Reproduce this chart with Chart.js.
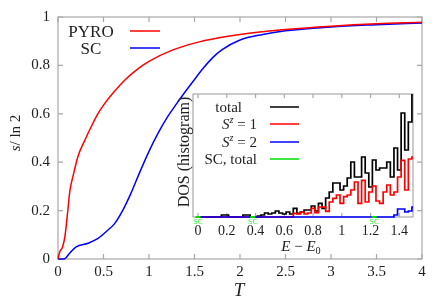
<!DOCTYPE html>
<html>
<head>
<meta charset="utf-8">
<script src="https://cdn.jsdelivr.net/npm/chart.js@4.4.0/dist/chart.umd.min.js"></script>
<style>
  html, body { margin: 0; padding: 0; background: #fff; }
  #wrap { position: relative; width: 436px; height: 306px; }
  #wrap canvas { position: absolute; left: 0; top: 0; }
</style>
</head>
<body>
<div id="wrap">
  <canvas id="mainChart" width="436" height="306"></canvas>
  <canvas id="insetChart" width="436" height="306"></canvas>
</div>
<script>
// main panel: entropy per site vs temperature
const pyroT = [0, 0.02, 0.05, 0.075, 0.105, 0.13, 0.17, 0.22, 0.3, 0.35, 0.43, 0.5, 0.6, 0.75, 0.93, 1.0, 1.25, 1.5, 1.77, 2.0, 2.5, 3.0, 3.5, 4.0];
const pyroS = [0, 0.03, 0.05, 0.09, 0.19, 0.28, 0.35, 0.425, 0.495, 0.535, 0.595, 0.636, 0.684, 0.745, 0.8, 0.817, 0.862, 0.892, 0.914, 0.928, 0.948, 0.962, 0.972, 0.978];
const scT = [0, 0.065, 0.13, 0.2, 0.33, 0.44, 0.55, 0.62, 0.71, 0.8, 0.9, 1.0, 1.1, 1.2, 1.3, 1.4, 1.5, 1.6, 1.7, 1.8, 2.0, 2.25, 2.5, 3.0, 3.5, 4.0];
const scS = [0, 0, 0.025, 0.05, 0.065, 0.085, 0.12, 0.145, 0.2, 0.27, 0.36, 0.445, 0.52, 0.585, 0.64, 0.692, 0.742, 0.79, 0.832, 0.864, 0.905, 0.928, 0.943, 0.959, 0.968, 0.975];
const tTicks = [0, 0.5, 1, 1.5, 2, 2.5, 3, 3.5, 4];
const sTicks = [0, 0.2, 0.4, 0.6, 0.8, 1];

// inset: DOS histogram (bin centres in E - E0)
const binE = [0, 0.025, 0.05, 0.075, 0.1, 0.125, 0.15, 0.175, 0.2, 0.225, 0.25, 0.275, 0.3, 0.325, 0.35, 0.375, 0.4, 0.425, 0.45, 0.475,
  0.5, 0.525, 0.55, 0.575, 0.6, 0.625, 0.65, 0.675, 0.7, 0.725, 0.75, 0.775, 0.8, 0.825, 0.85, 0.875, 0.9, 0.925, 0.95, 0.975,
  1.0, 1.025, 1.05, 1.075, 1.1, 1.125, 1.15, 1.175, 1.2, 1.225, 1.25, 1.275, 1.3, 1.325, 1.35, 1.375, 1.4, 1.425, 1.45, 1.475, 1.5];
const dosTotal = [0, 0, 0, 0, 0, 0, 0, 0.2, 0.2, 0, 0, 0, 0, 0.2, 0.2, 0, 0, 0.1, 0.2, 0.4,
  0.3, 0.4, 0.6, 0.4, 0.3, 0.5, 0.3, 0.87, 0.37, 0.5, 0.7, 0.7, 1.1, 0.6, 1.37, 0.87, 1.9, 2.5, 3.4, 3.4,
  2.7, 3.1, 3.9, 5.5, 4.0, 4.0, 6.0, 4.4, 3.0, 5.7, 4.7, 4.9, 4.9, 5.5, 4.0, 6.9, 4.7, 10.4, 6.7, 9.5, 12.6];
const dosSz1 = [0, 0, 0, 0, 0, 0, 0, 0, 0, 0, 0, 0, 0, 0, 0, 0, 0, 0, 0, 0,
  0, 0, 0, 0, 0, 0, 0, 0.37, 0.3, 0.5, 0.3, 0.4, 0.87, 0.43, 1.0, 1.0, 0.57, 1.5, 1.87, 2.2,
  1.37, 2.03, 2.2, 2.7, 3.5, 1.37, 3.67, 1.5, 2.5, 3.1, 1.6, 1.37, 2.5, 3.2, 2.2, 2.5, 4.0, 5.67, 2.7, 5.8, 6.0];
const dosSz2 = [0, 0, 0, 0, 0, 0, 0, 0, 0, 0, 0, 0, 0, 0, 0, 0, 0, 0, 0, 0,
  0, 0, 0, 0, 0, 0, 0, 0, 0, 0, 0, 0, 0, 0, 0, 0, 0, 0, 0, 0,
  0, 0, 0, 0, 0, 0, 0, 0, 0, 0, 0, 0, 0, 0, 0, 0.2, 0.8, 0.8, 0.5, 0.6, 1.0];
const scE = [0, 0.38, 1.225];
const scLabels = ["SC", "SC", "SC"];
const eTicks = [0, 0.2, 0.4, 0.6, 0.8, 1, 1.2, 1.4];

const FONT = '"Liberation Serif", "DejaVu Serif", serif';
const AXIS_GRAY = "#a8a8a8";
const TEXT = "#222";

const pts = (xs, ys) => xs.map((v, i) => ({ x: v, y: ys[i] }));

// draws text made of pieces (italic, superscript, subscript)
function drawRich(ctx, parts, x, y, size, align) {
  let w = 0;
  const m = parts.map(p => {
    const s = p.sup || p.sub ? size * 0.68 : size;
    const f = (p.it ? "italic " : "") + s + "px " + FONT;
    ctx.font = f;
    const pw = ctx.measureText(p.t).width;
    w += pw;
    return { p, f, pw };
  });
  let cx = align === "right" ? x - w : align === "center" ? x - w / 2 : x;
  ctx.textAlign = "left";
  ctx.textBaseline = "alphabetic";
  m.forEach(({ p, f, pw }) => {
    ctx.font = f;
    const dy = p.sup ? -size * 0.4 : p.sub ? size * 0.22 : 0;
    ctx.fillText(p.t, cx, y + dy);
    cx += pw;
  });
}

// --- Main chart ---
const mainDecor = {
  id: "mainDecor",
  beforeDatasetsDraw(chart) {
    const { ctx, chartArea: a, scales: { x, y } } = chart;
    ctx.save();
    ctx.strokeStyle = AXIS_GRAY;
    ctx.lineWidth = 1.2;
    ctx.strokeRect(a.left, a.top, a.right - a.left, a.bottom - a.top);
    ctx.beginPath();
    tTicks.forEach(v => {
      const px = x.getPixelForValue(v);
      ctx.moveTo(px, a.bottom); ctx.lineTo(px, a.bottom - 5);
      ctx.moveTo(px, a.top); ctx.lineTo(px, a.top + 5);
    });
    sTicks.forEach(v => {
      const py = y.getPixelForValue(v);
      ctx.moveTo(a.left, py); ctx.lineTo(a.left + 5, py);
      ctx.moveTo(a.right, py); ctx.lineTo(a.right - 5, py);
    });
    ctx.stroke();
    ctx.restore();
  },
  afterDraw(chart) {
    const { ctx } = chart;
    ctx.save();
    ctx.fillStyle = TEXT;
    // legend
    const items = [
      { ds: chart.data.datasets[0], y: 31 },
      { ds: chart.data.datasets[1], y: 48 }
    ];
    items.forEach(it => {
      drawRich(ctx, [{ t: it.ds.label }], 91, it.y + 6, 17, "center");
      ctx.strokeStyle = it.ds.borderColor;
      ctx.lineWidth = 1.5;
      ctx.beginPath();
      ctx.moveTo(130, it.y); ctx.lineTo(160, it.y);
      ctx.stroke();
    });
    // axis titles
    drawRich(ctx, [{ t: "T", it: true }], 239, 296, 19, "center");
    ctx.translate(15, 133);
    ctx.rotate(-Math.PI / 2);
    drawRich(ctx, [{ t: "s", it: true }, { t: "/ ln 2" }], 0, 5, 15, "center");
    ctx.restore();
  }
};

new Chart(document.getElementById("mainChart"), {
  type: "line",
  data: {
    datasets: [
      { label: "PYRO", data: pts(pyroT, pyroS), borderColor: "#ff0000", borderWidth: 1.5,
        pointRadius: 0, cubicInterpolationMode: "monotone", fill: false, clip: 2 },
      { label: "SC", data: pts(scT, scS), borderColor: "#0000ff", borderWidth: 1.5,
        pointRadius: 0, cubicInterpolationMode: "monotone", fill: false, clip: 2 }
    ]
  },
  options: {
    responsive: false,
    animation: false,
    events: [],
    layout: { padding: { top: 14, right: 14, left: 0, bottom: 0 } },
    plugins: { legend: { display: false }, tooltip: { enabled: false } },
    scales: {
      x: {
        type: "linear", min: 0, max: 4,
        afterFit: s => { s.height = 47; },
        afterBuildTicks: s => { s.ticks = tTicks.map(v => ({ value: v })); },
        ticks: { font: { family: FONT, size: 15 }, color: TEXT, padding: 4, maxRotation: 0,
                 callback: v => String(+v.toFixed(1)) },
        grid: { display: false, drawTicks: false },
        border: { display: false }
      },
      y: {
        type: "linear", min: 0, max: 1,
        afterFit: s => { s.width = 58; },
        afterBuildTicks: s => { s.ticks = sTicks.map(v => ({ value: v })); },
        ticks: { font: { family: FONT, size: 15 }, color: TEXT, padding: 8,
                 callback: v => String(+v.toFixed(1)) },
        grid: { display: false, drawTicks: false },
        border: { display: false }
      }
    }
  },
  plugins: [mainDecor]
});

// --- Inset chart ---
const insetDecor = {
  id: "insetDecor",
  beforeDatasetsDraw(chart) {
    const { ctx, chartArea: a, scales: { x } } = chart;
    ctx.save();
    ctx.strokeStyle = AXIS_GRAY;
    ctx.lineWidth = 1.2;
    ctx.strokeRect(a.left, a.top, a.right - a.left, a.bottom - a.top);
    ctx.beginPath();
    eTicks.forEach(v => {
      const px = x.getPixelForValue(v);
      ctx.moveTo(px, a.bottom); ctx.lineTo(px, a.bottom - 4);
      ctx.moveTo(px, a.top); ctx.lineTo(px, a.top + 4);
    });
    ctx.stroke();
    ctx.restore();
  },
  afterDatasetsDraw(chart) {
    const { ctx, chartArea: a } = chart;
    ctx.save();
    // SC level labels under the green marks
    const meta = chart.getDatasetMeta(3);
    ctx.fillStyle = "#44ee44";
    ctx.font = '7px "DejaVu Sans", sans-serif';
    ctx.textAlign = "center";
    ctx.textBaseline = "middle";
    meta.data.forEach((el, i) => ctx.fillText(scLabels[i], el.x, a.bottom + 5));
    ctx.restore();
  },
  afterDraw(chart) {
    const { ctx } = chart;
    const ds = chart.data.datasets;
    ctx.save();
    ctx.fillStyle = TEXT;
    const rows = [
      { parts: [{ t: "total" }], right: 242, y: 107, color: ds[0].borderColor },
      { parts: [{ t: "S", it: true }, { t: "z", it: true, sup: true }, { t: " = 1" }], right: 257, y: 124, color: ds[1].borderColor },
      { parts: [{ t: "S", it: true }, { t: "z", it: true, sup: true }, { t: " = 2" }], right: 257, y: 142, color: ds[2].borderColor },
      { parts: [{ t: "SC, total" }], right: 257, y: 159, color: ds[3].pointBorderColor }
    ];
    rows.forEach(r => {
      drawRich(ctx, r.parts, r.right, r.y + 5, 15, "right");
      ctx.strokeStyle = r.color;
      ctx.lineWidth = 1.5;
      ctx.beginPath();
      ctx.moveTo(270, r.y); ctx.lineTo(299, r.y);
      ctx.stroke();
    });
    // axis titles
    drawRich(ctx, [{ t: "E", it: true }, { t: " \u2212 " }, { t: "E", it: true }, { t: "0", sub: true }], 301, 251, 15, "center");
    ctx.translate(184, 152);
    ctx.rotate(-Math.PI / 2);
    drawRich(ctx, [{ t: "DOS (histogram)" }], 0, 5, 16, "center");
    ctx.restore();
  }
};

const histStyle = { borderWidth: 1.7, pointRadius: 0, stepped: "middle", fill: false,
                    clip: { left: 0, top: 0, right: 0, bottom: 2 } };

new Chart(document.getElementById("insetChart"), {
  type: "line",
  data: {
    datasets: [
      Object.assign({ label: "total", data: pts(binE, dosTotal), borderColor: "#000000", order: 4 }, histStyle),
      Object.assign({ label: "Sz = 1", data: pts(binE, dosSz1), borderColor: "#ff0000", order: 3 }, histStyle),
      Object.assign({ label: "Sz = 2", data: pts(binE, dosSz2), borderColor: "#0000ff", order: 2 }, histStyle),
      { label: "SC, total", data: scE.map(e => ({ x: e, y: 0 })), showLine: false,
        pointStyle: "line", pointRadius: 2.5, pointBorderWidth: 2,
        pointBorderColor: "#00dd00", pointBackgroundColor: "#00dd00", order: 1, clip: false }
    ]
  },
  options: {
    responsive: false,
    animation: false,
    events: [],
    layout: { padding: { top: 94, right: 23, left: 0, bottom: 0 } },
    plugins: { legend: { display: false }, tooltip: { enabled: false } },
    scales: {
      x: {
        type: "linear", min: -0.035, max: 1.495,
        afterFit: s => { s.height = 89; },
        afterBuildTicks: s => { s.ticks = eTicks.map(v => ({ value: v })); },
        ticks: { font: { family: FONT, size: 14 }, color: TEXT, padding: 6, maxRotation: 0,
                 callback: v => String(+v.toFixed(1)) },
        grid: { display: false, drawTicks: false },
        border: { display: false }
      },
      y: {
        type: "linear", min: 0, max: 12.3,
        afterFit: s => { s.width = 193; },
        ticks: { display: false },
        grid: { display: false, drawTicks: false },
        border: { display: false }
      }
    }
  },
  plugins: [insetDecor]
});
</script>
</body>
</html>
